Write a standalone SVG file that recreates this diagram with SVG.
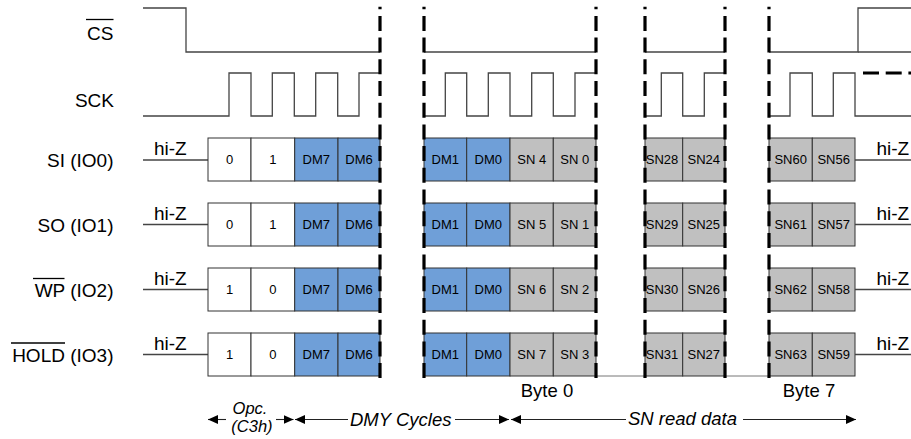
<svg xmlns="http://www.w3.org/2000/svg" width="911" height="439" viewBox="0 0 911 439">
<style>
  text { font-family: "Liberation Sans", Arial, sans-serif; fill: #000; }
  .lbl { font-size: 19px; text-anchor: end; }
  .hz { font-size: 19px; }
  .cell { font-size: 13px; text-anchor: middle; }
  .byte { font-size: 18.5px; text-anchor: middle; }
  .it { font-size: 18.5px; font-style: italic; }
  .sig { fill: none; stroke: #444; stroke-width: 1.3; }
  .ovl { stroke: #000; stroke-width: 1.3; }
  .w { fill: #fff; stroke: #333; stroke-width: 1; }
  .b { fill: #6f9fd8; stroke: #333; stroke-width: 1; }
  .g { fill: #c0c0c0; stroke: #333; stroke-width: 1; }
  .cut { fill: none; stroke: #000; stroke-width: 3.2; stroke-dasharray: 15 6.7; stroke-dashoffset: 12.5; }
  .arr { fill: none; stroke: #222; stroke-width: 1.1; }
  .thin { fill: none; stroke: #777; stroke-width: 1; }
</style>
<defs>
  <marker id="ah" markerWidth="10" markerHeight="9" refX="10" refY="4.5" orient="auto" markerUnits="userSpaceOnUse">
    <path d="M0,0 L10,4.5 L0,9 Z" fill="#000"/>
  </marker>
</defs>

<!-- labels -->
<g id="labels">
  <text class="lbl" x="113.5" y="40">CS</text>
  <line class="ovl" x1="86" y1="19.5" x2="113.5" y2="19.5"/>
  <text class="lbl" x="114" y="107">SCK</text>
  <text class="lbl" x="113.5" y="167">SI (IO0)</text>
  <text class="lbl" x="113.5" y="232">SO (IO1)</text>
  <text class="lbl" x="113.5" y="297">WP (IO2)</text>
  <line class="ovl" x1="33" y1="278.5" x2="64.5" y2="278.5"/>
  <text class="lbl" x="113.5" y="362">HOLD (IO3)</text>
  <line class="ovl" x1="11" y1="343" x2="65" y2="343"/>
</g>

<!-- CS signal -->
<g id="cs">
  <path class="sig" d="M143,8 H186 V52 H380"/>
  <path class="sig" d="M424,52 H596"/>
  <path class="sig" d="M645,52 H725"/>
  <path class="sig" d="M769,52 H858 V8 H911"/>
  <path class="sig" d="M858,52 H911"/>
</g>

<!-- SCK signal -->
<g id="sck">
  <path class="sig" d="M143,116 H229 V73 H251 V116 H272.3 V73 H294.3 V116 H315.7 V73 H337.7 V116 H359 V73 H380"/>
  <path class="sig" d="M424,116 H445.3 V73 H466.7 V116 H488.3 V73 H510 V116 H531.7 V73 H553.3 V116 H575 V73 H596"/>
  <path class="sig" d="M645,116 H661.3 V73 H682.7 V116 H704.3 V73 H725"/>
  <path class="sig" d="M769,116 H790 V73 H812.3 V116 H833.3 V73 H855 V116 H911"/>
  <path d="M863,73 H911" fill="none" stroke="#000" stroke-width="3" stroke-dasharray="16 6.7"/>
</g>

<!-- SI row -->
<g id="row-si">
  <path class="sig" d="M143,160 H208"/>
  <text class="hz" x="154" y="155">hi-Z</text>
  <rect class="w" x="208" y="138" width="43" height="43"/>
  <rect class="w" x="251" y="138" width="43.7" height="43"/>
  <rect class="b" x="294.7" y="138" width="43.3" height="43"/>
  <rect class="b" x="338" y="138" width="42" height="43"/>
  <rect class="b" x="424" y="138" width="42.7" height="43"/>
  <rect class="b" x="466.7" y="138" width="43.3" height="43"/>
  <rect class="g" x="510" y="138" width="43.3" height="43"/>
  <rect class="g" x="553.3" y="138" width="42.7" height="43"/>
  <rect class="g" x="645" y="138" width="37.7" height="43"/>
  <rect class="g" x="682.7" y="138" width="42.3" height="43"/>
  <rect class="g" x="769" y="138" width="43.3" height="43"/>
  <rect class="g" x="812.3" y="138" width="42.7" height="43"/>
  <text class="cell" x="229.5" y="164">0</text>
  <text class="cell" x="272.8" y="164">1</text>
  <text class="cell" x="316.3" y="164">DM7</text>
  <text class="cell" x="359" y="164">DM6</text>
  <text class="cell" x="445.3" y="164">DM1</text>
  <text class="cell" x="488.3" y="164">DM0</text>
  <text class="cell" x="531.7" y="164">SN 4</text>
  <text class="cell" x="574.7" y="164">SN 0</text>
  <text class="cell" x="662" y="164">SN28</text>
  <text class="cell" x="703.8" y="164">SN24</text>
  <text class="cell" x="790.7" y="164">SN60</text>
  <text class="cell" x="833.7" y="164">SN56</text>
  <path class="sig" d="M855,160 H911"/>
  <text class="hz" x="876.5" y="155">hi-Z</text>
</g>

<!-- SO row -->
<g id="row-so">
  <path class="sig" d="M143,224.5 H208"/>
  <text class="hz" x="154" y="220">hi-Z</text>
  <rect class="w" x="208" y="203" width="43" height="43"/>
  <rect class="w" x="251" y="203" width="43.7" height="43"/>
  <rect class="b" x="294.7" y="203" width="43.3" height="43"/>
  <rect class="b" x="338" y="203" width="42" height="43"/>
  <rect class="b" x="424" y="203" width="42.7" height="43"/>
  <rect class="b" x="466.7" y="203" width="43.3" height="43"/>
  <rect class="g" x="510" y="203" width="43.3" height="43"/>
  <rect class="g" x="553.3" y="203" width="42.7" height="43"/>
  <rect class="g" x="645" y="203" width="37.7" height="43"/>
  <rect class="g" x="682.7" y="203" width="42.3" height="43"/>
  <rect class="g" x="769" y="203" width="43.3" height="43"/>
  <rect class="g" x="812.3" y="203" width="42.7" height="43"/>
  <text class="cell" x="229.5" y="229">0</text>
  <text class="cell" x="272.8" y="229">1</text>
  <text class="cell" x="316.3" y="229">DM7</text>
  <text class="cell" x="359" y="229">DM6</text>
  <text class="cell" x="445.3" y="229">DM1</text>
  <text class="cell" x="488.3" y="229">DM0</text>
  <text class="cell" x="531.7" y="229">SN 5</text>
  <text class="cell" x="574.7" y="229">SN 1</text>
  <text class="cell" x="662" y="229">SN29</text>
  <text class="cell" x="703.8" y="229">SN25</text>
  <text class="cell" x="790.7" y="229">SN61</text>
  <text class="cell" x="833.7" y="229">SN57</text>
  <path class="sig" d="M855,224.5 H911"/>
  <text class="hz" x="876.5" y="220">hi-Z</text>
</g>

<!-- WP row -->
<g id="row-wp">
  <path class="sig" d="M143,289.5 H208"/>
  <text class="hz" x="154" y="285">hi-Z</text>
  <rect class="w" x="208" y="268" width="43" height="43"/>
  <rect class="w" x="251" y="268" width="43.7" height="43"/>
  <rect class="b" x="294.7" y="268" width="43.3" height="43"/>
  <rect class="b" x="338" y="268" width="42" height="43"/>
  <rect class="b" x="424" y="268" width="42.7" height="43"/>
  <rect class="b" x="466.7" y="268" width="43.3" height="43"/>
  <rect class="g" x="510" y="268" width="43.3" height="43"/>
  <rect class="g" x="553.3" y="268" width="42.7" height="43"/>
  <rect class="g" x="645" y="268" width="37.7" height="43"/>
  <rect class="g" x="682.7" y="268" width="42.3" height="43"/>
  <rect class="g" x="769" y="268" width="43.3" height="43"/>
  <rect class="g" x="812.3" y="268" width="42.7" height="43"/>
  <text class="cell" x="229.5" y="294">1</text>
  <text class="cell" x="272.8" y="294">0</text>
  <text class="cell" x="316.3" y="294">DM7</text>
  <text class="cell" x="359" y="294">DM6</text>
  <text class="cell" x="445.3" y="294">DM1</text>
  <text class="cell" x="488.3" y="294">DM0</text>
  <text class="cell" x="531.7" y="294">SN 6</text>
  <text class="cell" x="574.7" y="294">SN 2</text>
  <text class="cell" x="662" y="294">SN30</text>
  <text class="cell" x="703.8" y="294">SN26</text>
  <text class="cell" x="790.7" y="294">SN62</text>
  <text class="cell" x="833.7" y="294">SN58</text>
  <path class="sig" d="M855,289.5 H911"/>
  <text class="hz" x="876.5" y="285">hi-Z</text>
</g>

<!-- HOLD row -->
<g id="row-hold">
  <path class="sig" d="M143,354.5 H208"/>
  <text class="hz" x="154" y="350">hi-Z</text>
  <rect class="w" x="208" y="333" width="43" height="43"/>
  <rect class="w" x="251" y="333" width="43.7" height="43"/>
  <rect class="b" x="294.7" y="333" width="43.3" height="43"/>
  <rect class="b" x="338" y="333" width="42" height="43"/>
  <rect class="b" x="424" y="333" width="42.7" height="43"/>
  <rect class="b" x="466.7" y="333" width="43.3" height="43"/>
  <rect class="g" x="510" y="333" width="43.3" height="43"/>
  <rect class="g" x="553.3" y="333" width="42.7" height="43"/>
  <rect class="g" x="645" y="333" width="37.7" height="43"/>
  <rect class="g" x="682.7" y="333" width="42.3" height="43"/>
  <rect class="g" x="769" y="333" width="43.3" height="43"/>
  <rect class="g" x="812.3" y="333" width="42.7" height="43"/>
  <text class="cell" x="229.5" y="359">1</text>
  <text class="cell" x="272.8" y="359">0</text>
  <text class="cell" x="316.3" y="359">DM7</text>
  <text class="cell" x="359" y="359">DM6</text>
  <text class="cell" x="445.3" y="359">DM1</text>
  <text class="cell" x="488.3" y="359">DM0</text>
  <text class="cell" x="531.7" y="359">SN 7</text>
  <text class="cell" x="574.7" y="359">SN 3</text>
  <text class="cell" x="662" y="359">SN31</text>
  <text class="cell" x="703.8" y="359">SN27</text>
  <text class="cell" x="790.7" y="359">SN63</text>
  <text class="cell" x="833.7" y="359">SN59</text>
  <path class="sig" d="M855,354.5 H911"/>
  <text class="hz" x="876.5" y="350">hi-Z</text>
  <path class="thin" d="M596,376 H645 M725,376 H769"/>
</g>

<!-- byte labels -->
<g id="bytes">
  <text class="byte" x="547" y="396.5">Byte 0</text>
  <text class="byte" x="809" y="396.5">Byte 7</text>
</g>

<!-- connectors: cut lines and span arrows -->
<g id="connectors">
  <path class="cut" d="M380,6.7 V378 M424,6.7 V378 M596,6.7 V378 M645,6.7 V378 M725,6.7 V378 M769,6.7 V378"/>
  <path class="arr" d="M226,419.5 H208" marker-end="url(#ah)"/>
  <path class="arr" d="M276,419.5 H293.5" marker-end="url(#ah)"/>
  <path class="arr" d="M348,419.5 H295" marker-end="url(#ah)"/>
  <path class="arr" d="M455,419.5 H509" marker-end="url(#ah)"/>
  <path class="arr" d="M626,419.5 H511" marker-end="url(#ah)"/>
  <path class="arr" d="M743,419.5 H856" marker-end="url(#ah)"/>
  <text class="it" x="250" y="414" text-anchor="middle" style="font-size:16.5px">Opc.</text>
  <text class="it" x="252" y="432" text-anchor="middle" style="font-size:16.5px">(C3h)</text>
  <text class="it" x="350" y="425.5">DMY Cycles</text>
  <text class="it" x="628" y="424.5">SN read data</text>
</g>
</svg>
